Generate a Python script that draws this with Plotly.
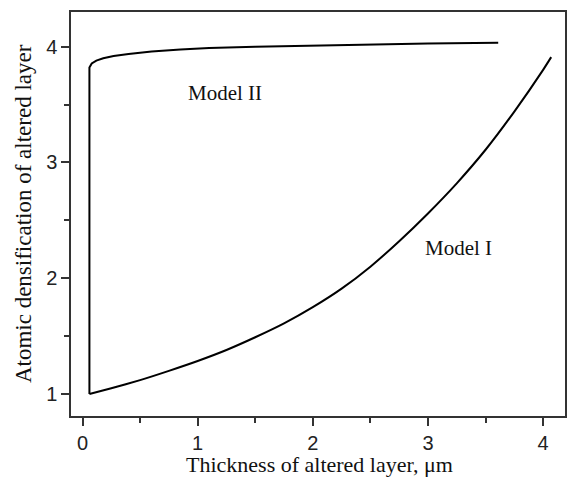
import plotly.graph_objects as go

# Model I: atomic densification vs thickness
model1_x = [0.06, 0.25, 0.5, 0.75, 1.0, 1.25, 1.5, 1.75, 2.0, 2.25, 2.5, 2.75, 3.0, 3.25, 3.5, 3.75, 4.0, 4.07]
model1_y = [1.0, 1.05, 1.12, 1.20, 1.285, 1.38, 1.49, 1.61, 1.75, 1.91, 2.10, 2.32, 2.56, 2.82, 3.11, 3.44, 3.80, 3.91]

# Model II
model2_x = [0.06, 0.06, 0.08, 0.12, 0.18, 0.27, 0.4, 0.6, 0.85, 1.1, 1.5, 2.0, 2.5, 3.0, 3.61]
model2_y = [1.0, 3.82, 3.855, 3.88, 3.90, 3.92, 3.938, 3.958, 3.976, 3.99, 4.0, 4.011, 4.02, 4.027, 4.035]

x_ticks = [0, 1, 2, 3, 4]
y_ticks = [1, 2, 3, 4]

fig = go.Figure()
fig.add_trace(go.Scatter(x=model1_x, y=model1_y, mode="lines", name="Model I",
                         line=dict(color="black", width=2, shape="spline", smoothing=0.5)))
fig.add_trace(go.Scatter(x=model2_x, y=model2_y, mode="lines", name="Model II",
                         line=dict(color="black", width=2)))

serif = "Liberation Serif, Times New Roman, serif"
sans = "Liberation Sans, Arial, sans-serif"

fig.add_annotation(x=0.9, y=3.60, text="Model II", showarrow=False, xanchor="left",
                   yanchor="middle", font=dict(family=serif, size=21, color="#111"))
fig.add_annotation(x=2.956, y=2.26, text="Model I", showarrow=False, xanchor="left",
                   yanchor="middle", font=dict(family=serif, size=21, color="#111"))

# axis titles
fig.add_annotation(xref="paper", yref="paper", x=0.5035, y=-0.121,
                   text="Thickness of altered layer, μm", showarrow=False,
                   xanchor="center", yanchor="middle",
                   font=dict(family=serif, size=22, color="#111"))
fig.add_annotation(xref="paper", yref="paper", x=-0.097, y=0.5,
                   text="Atomic densification of altered layer", showarrow=False,
                   textangle=-90, xanchor="center", yanchor="middle",
                   font=dict(family=serif, size=23, color="#111"))

axis_common = dict(showgrid=False, zeroline=False, showline=True, linecolor="#333",
                   linewidth=1.5, mirror=True, ticks="outside", ticklen=8, tickwidth=1.5,
                   tickcolor="#333", automargin=False,
                   tickfont=dict(family=sans, size=20, color="#222"))

fig.update_xaxes(range=[-0.1, 4.19], tickmode="array", tickvals=x_ticks,
                 ticktext=[str(v) for v in x_ticks],
                 minor=dict(ticks="outside", ticklen=5, tickwidth=1.5, tickcolor="#333",
                            dtick=0.5, tick0=0),
                 **axis_common)
fig.update_yaxes(range=[0.81, 4.30], tickmode="array", tickvals=y_ticks,
                 ticktext=[str(v) for v in y_ticks],
                 minor=dict(ticks="outside", ticklen=5, tickwidth=1.5, tickcolor="#333",
                            dtick=0.5, tick0=0),
                 **axis_common)

fig.update_layout(width=568, height=492, showlegend=False,
                  margin=dict(l=71, r=3, t=12, b=76),
                  plot_bgcolor="white", paper_bgcolor="white")

fig.write_html("out.html", config={"displayModeBar": False},
               post_script="document.body.style.margin='0px';document.body.style.overflow='hidden';")
